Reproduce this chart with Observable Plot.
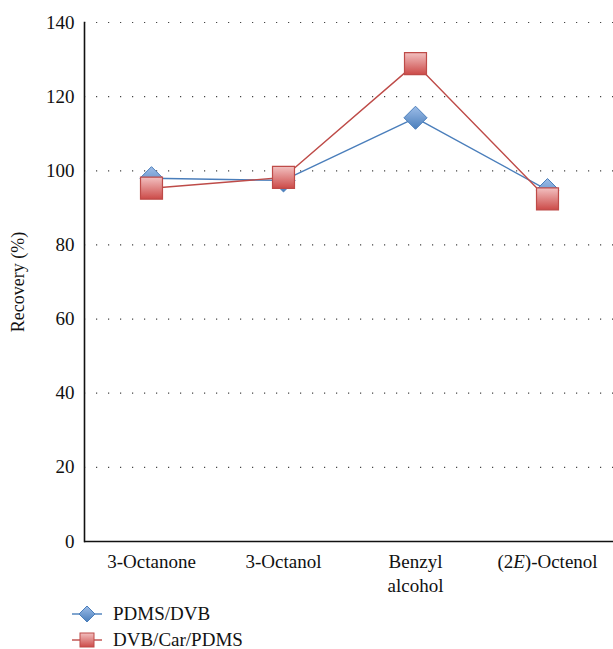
<!DOCTYPE html>
<html><head><meta charset="utf-8">
<script src="https://cdn.jsdelivr.net/npm/d3@7"></script>
<script src="https://cdn.jsdelivr.net/npm/@observablehq/plot@0.6"></script>
<style>
body{margin:0;background:#fff;font-family:"Liberation Serif","DejaVu Serif",serif;overflow:hidden;}
#legend{position:relative;height:49px;font-size:19px;color:#111;}
.item{position:absolute;left:72px;display:flex;align-items:center;height:18px;line-height:18px;}
.item span{margin-left:11px;}
</style></head>
<body>
<div id="chart"></div>
<div id="legend"></div>
<script>
const categories = ["3-Octanone", "3-Octanol", "Benzyl alcohol", "(2E)-Octenol"];
const seriesNames = ["PDMS/DVB", "DVB/Car/PDMS"];
const pdmsDvb = [98.0, 97.4, 114.3, 94.8];
const dvbCarPdms = [95.3, 98.2, 128.9, 92.4];
const yTicks = [0, 20, 40, 60, 80, 100, 120, 140];

const rows = [];
categories.forEach((c, i) => {
  rows.push({cat: c, value: pdmsDvb[i], series: seriesNames[0]});
  rows.push({cat: c, value: dvbCarPdms[i], series: seriesNames[1]});
});
const blue = rows.filter(d => d.series === seriesNames[0]);
const red = rows.filter(d => d.series === seriesNames[1]);

const chart = Plot.plot({
  width: 613, height: 600,
  marginLeft: 84, marginRight: 0, marginTop: 22, marginBottom: 59,
  style: {fontFamily: '"Liberation Serif","DejaVu Serif",serif', fontSize: "19px", color: "#111", background: "#fff"},
  x: {type: "point", domain: categories, padding: 0.5, label: null},
  y: {domain: [0, 140], label: null},
  marks: [
    Plot.ruleY(yTicks.filter(t => t > 0), {stroke: "#444", strokeWidth: 1.2, strokeDasharray: "1.2,10.8"}),
    Plot.axisY({ticks: yTicks, tickSize: 0, tickPadding: 10, label: null, fontSize: 19}),
    Plot.axisX({tickSize: 0, tickPadding: 10, label: null, lineHeight: 1.25, fontSize: 19,
      tickFormat: d => d === "Benzyl alcohol" ? "Benzyl\nalcohol" : d}),
    Plot.text(["Recovery (%)"], {frameAnchor: "left", textAnchor: "middle", dx: -66, rotate: -90, fontSize: 18}),
    Plot.line(blue, {x: "cat", y: "value", stroke: "#4a7ebb", strokeWidth: 1.4}),
    Plot.line(red, {x: "cat", y: "value", stroke: "#be4b48", strokeWidth: 1.4}),
    Plot.dot(blue, {x: "cat", y: "value", symbol: "diamond2", r: 10.4, fill: "url(#gBlue)", stroke: "#4a7ebb", strokeWidth: 1}),
    Plot.dot(red, {x: "cat", y: "value", symbol: "square", r: 12.4, fill: "url(#gRed)", stroke: "#be4b48", strokeWidth: 1.2}),
    Plot.frame({anchor: "left", stroke: "#111", strokeWidth: 1.6}),
    Plot.ruleY([0], {stroke: "#111", strokeWidth: 1.6})
  ]
});

function addDefs(svgNode) {
  const defs = d3.select(svgNode).insert("defs", ":first-child");
  const g1 = defs.append("linearGradient").attr("id", "gBlue").attr("x1", 0).attr("y1", 0).attr("x2", 0).attr("y2", 1);
  g1.append("stop").attr("offset", "0%").attr("stop-color", "#9dbde8");
  g1.append("stop").attr("offset", "100%").attr("stop-color", "#4a7ebb");
  const g2 = defs.append("linearGradient").attr("id", "gRed").attr("x1", 0).attr("y1", 0).attr("x2", 0).attr("y2", 1);
  g2.append("stop").attr("offset", "0%").attr("stop-color", "#f2c0c0");
  g2.append("stop").attr("offset", "100%").attr("stop-color", "#cc4a48");
}
addDefs(chart);

// italic E in (2E)-Octenol
d3.select(chart).selectAll("text").each(function() {
  const t = d3.select(this);
  if (t.text() === "(2E)-Octenol" && this.children.length === 0) {
    t.text(null);
    t.append("tspan").text("(2");
    t.append("tspan").attr("font-style", "italic").text("E");
    t.append("tspan").text(")-Octenol");
  }
});
document.getElementById("chart").appendChild(chart);

// legend
const legend = d3.select("#legend");
const items = [
  {name: seriesNames[0], stroke: "#4a7ebb", grad: "lgBlue", c1: "#9dbde8", c2: "#4a7ebb", shape: "diamond"},
  {name: seriesNames[1], stroke: "#be4b48", grad: "lgRed", c1: "#f2c0c0", c2: "#cc4a48", shape: "square"}
];
items.forEach((it, i) => {
  const div = legend.append("div").attr("class", "item").style("top", (i * 26 + 5) + "px");
  const s = div.append("svg").attr("width", 30).attr("height", 18);
  const g = s.append("defs").append("linearGradient").attr("id", it.grad).attr("x1", 0).attr("y1", 0).attr("x2", 0).attr("y2", 1);
  g.append("stop").attr("offset", "0%").attr("stop-color", it.c1);
  g.append("stop").attr("offset", "100%").attr("stop-color", it.c2);
  s.append("line").attr("x1", 0).attr("x2", 30).attr("y1", 9).attr("y2", 9).attr("stroke", it.stroke).attr("stroke-width", 1.4);
  if (it.shape === "diamond") {
    s.append("path").attr("d", "M15,1L23,9L15,17L7,9Z").attr("fill", `url(#${it.grad})`).attr("stroke", it.stroke);
  } else {
    s.append("rect").attr("x", 8).attr("y", 2).attr("width", 14).attr("height", 14).attr("fill", `url(#${it.grad})`).attr("stroke", it.stroke);
  }
  div.append("span").text(it.name);
});
</script>
</body></html>
